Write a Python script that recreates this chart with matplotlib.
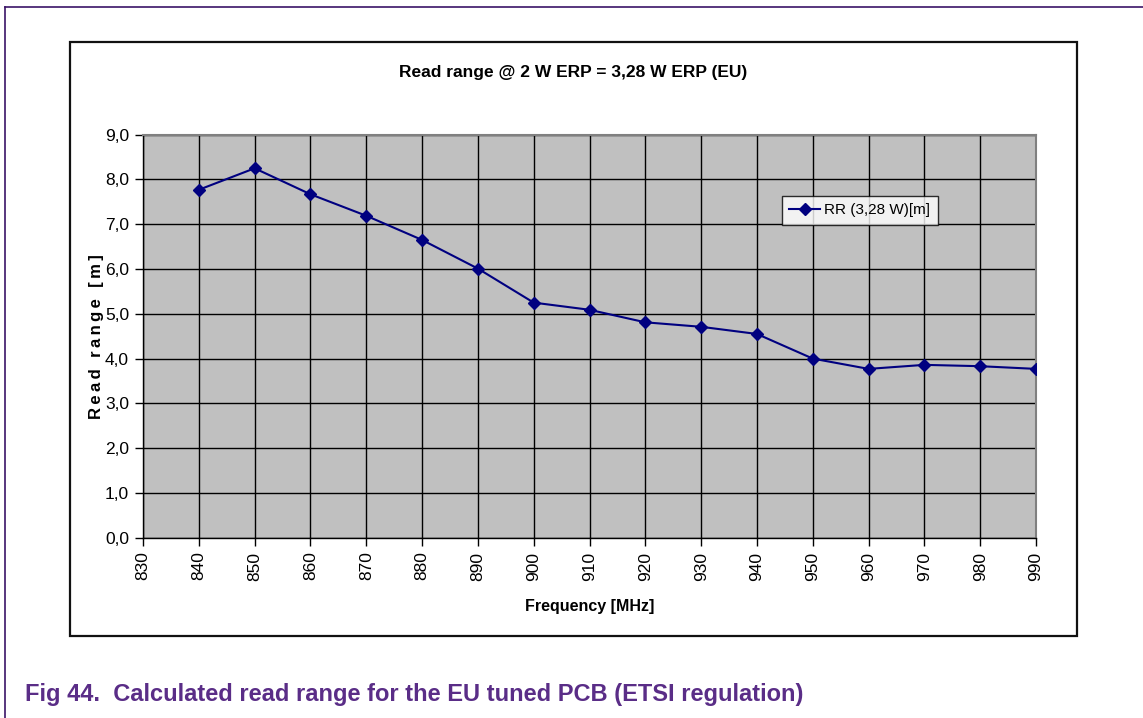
import matplotlib.pyplot as plt
from matplotlib.lines import Line2D
from matplotlib.patches import Rectangle
from matplotlib.ticker import FuncFormatter

freq = [840, 850, 860, 870, 880, 890, 900, 910, 920, 930, 940, 950, 960, 970, 980, 990]
read_range = [7.77, 8.25, 7.67, 7.19, 6.65, 6.01, 5.25, 5.09, 4.81, 4.71, 4.55, 4.00, 3.77, 3.86, 3.83, 3.77]
x_ticks = list(range(830, 1000, 10))
y_ticks = [0, 1, 2, 3, 4, 5, 6, 7, 8, 9]

FONT = ['Liberation Sans', 'DejaVu Sans']

W, H = 1143, 718
fig = plt.figure(figsize=(W / 100, H / 100), dpi=100)

def fx(px):
    return px / W

def fy(py):
    return 1 - py / H

# page frame (left and top edges only)
fig.add_artist(Line2D([fx(5), fx(5)], [fy(7), 0], transform=fig.transFigure,
                      color='#3b1467', lw=1.2))
fig.add_artist(Line2D([fx(5), 1], [fy(7), fy(7)], transform=fig.transFigure,
                      color='#3b1467', lw=1.2))

# chart frame
fig.add_artist(Rectangle((fx(70), fy(636)), fx(1077) - fx(70), fy(42) - fy(636),
                         transform=fig.transFigure, fill=False, ec='#111111', lw=1.6))

ax = fig.add_axes([fx(143), fy(537.7), fx(1036) - fx(143), fy(134.7) - fy(537.7)])
ax.set_facecolor('#c0c0c0')

ax.plot(freq, read_range, color='#000080', lw=1.5, marker='D', ms=6,
        mfc='#000080', mec='#000080', label='RR (3,28 W)[m]', zorder=3)

ax.set_xlim(830, 990)
ax.set_ylim(0, 9)
ax.set_xticks(x_ticks)
ax.set_yticks(y_ticks)
ax.yaxis.set_major_formatter(FuncFormatter(lambda v, p: ('%.1f' % v).replace('.', ',')))
ax.grid(True, color='black', lw=1.0)
ax.set_axisbelow(True)

for s in ['top', 'right']:
    ax.spines[s].set_color('#808080')
    ax.spines[s].set_linewidth(1.5)
for s in ['left', 'bottom']:
    ax.spines[s].set_color('black')
    ax.spines[s].set_linewidth(1.0)

ax.tick_params(direction='out', length=6, width=1, color='black', pad=4)
for lab in ax.get_yticklabels():
    lab.set_family(FONT)
    lab.set_fontsize(12.5)
for lab in ax.get_xticklabels():
    lab.set_family(FONT)
    lab.set_fontsize(12.5)
    lab.set_rotation(90)

ax.set_xlabel('Frequency [MHz]', family=FONT, fontsize=11.5, fontweight='bold', labelpad=13)
# thin spaces give the spread-out look of the axis title
ylab = '\u2009'.join('Read range [m]')
ax.set_ylabel(ylab, family=FONT, fontsize=12, fontweight='bold', labelpad=1)

fig.text(fx(573), fy(73), 'Read range @ 2 W ERP = 3,28 W ERP (EU)', family=FONT,
         fontsize=12.5, fontweight='bold', ha='center', va='center')

leg = ax.legend(loc='upper left', bbox_to_anchor=((781.7 - 143) / (1036 - 143), (537.7 - 195.7) / 403),
                frameon=True, fancybox=False, prop={'family': FONT, 'size': 11},
                handlelength=2.0, handletextpad=0.3, borderpad=0.5, borderaxespad=0)
leg.get_frame().set_edgecolor('black')
leg.get_frame().set_linewidth(1.0)

fig.text(fx(25), fy(694), 'Fig 44.  Calculated read range for the EU tuned PCB (ETSI regulation)',
         family=FONT, fontsize=17, fontweight='bold', color='#5a2d87', ha='left', va='center')

fig.savefig('out.png', dpi=100)
